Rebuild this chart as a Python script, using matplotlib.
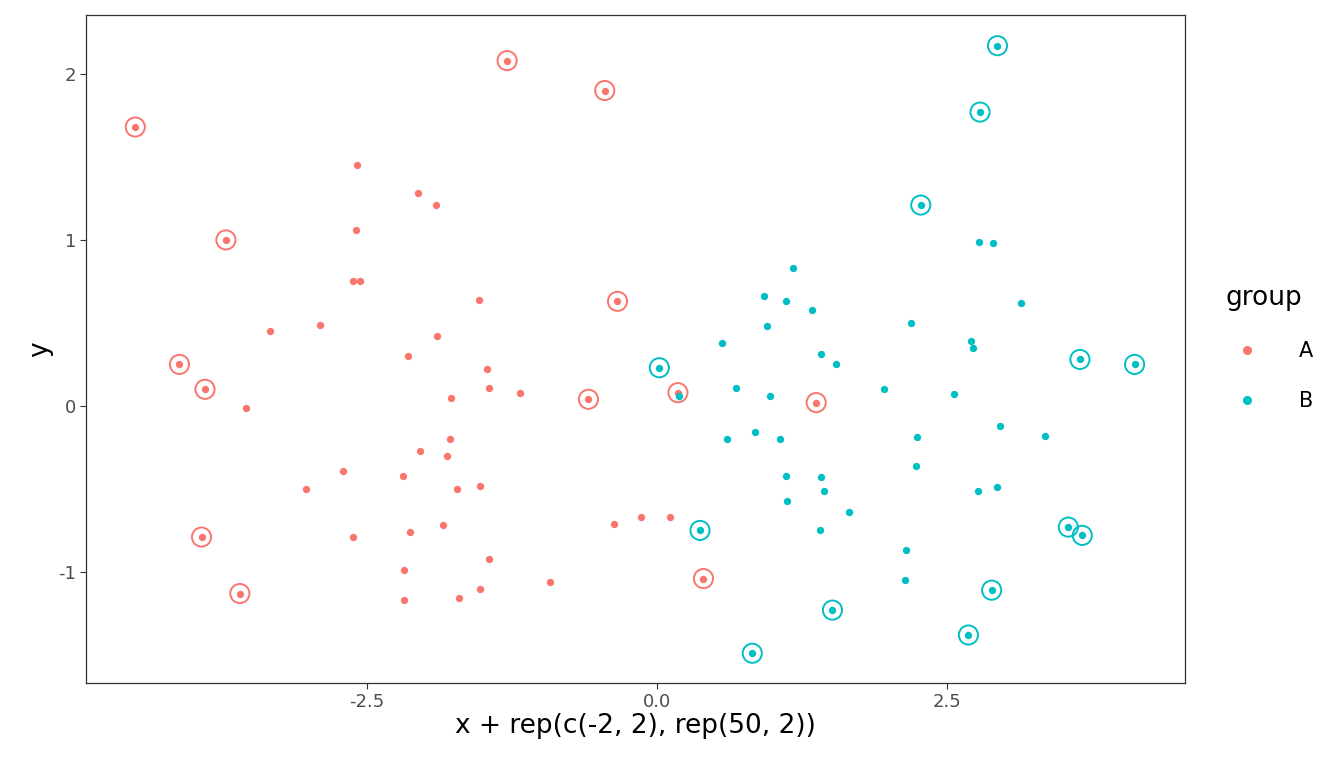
import numpy as np
import matplotlib
matplotlib.use("Agg")
import matplotlib.pyplot as plt
from matplotlib.lines import Line2D

red = "#F8766D"
teal = "#00BFC4"

# group A, marked points
a_mark_x = [-4.49, -3.71, -4.11, -3.89, -3.92, -3.59, -1.29, -0.45, -0.34, -0.59, 0.18, 1.37, 0.40]
a_mark_y = [1.68, 1.00, 0.25, 0.10, -0.79, -1.13, 2.08, 1.90, 0.63, 0.04, 0.08, 0.02, -1.04]
# group A, other points
a_x = [-2.58, -2.06, -1.90, -2.59, -2.62, -2.56, -1.53, -3.33, -2.90, -1.89, -2.14, -1.46,
       -1.45, -1.18, -1.77, -3.54, -1.78, -2.04, -1.81, -2.70, -2.19, -3.02, -1.72, -1.52,
       -1.84, -2.13, -0.37, -0.14, 0.11, -2.62, -1.45, -2.18, -0.92, -1.70, -1.52, -2.18]
a_y = [1.45, 1.28, 1.21, 1.06, 0.75, 0.75, 0.64, 0.45, 0.49, 0.42, 0.30, 0.22,
       0.11, 0.08, 0.05, -0.01, -0.20, -0.27, -0.30, -0.39, -0.42, -0.50, -0.50, -0.48,
       -0.72, -0.76, -0.71, -0.67, -0.67, -0.79, -0.92, -0.99, -1.06, -1.16, -1.10, -1.17]

# group B, marked points
b_mark_x = [2.93, 2.78, 2.27, 0.02, 3.64, 4.11, 0.37, 3.54, 3.66, 2.88, 1.51, 2.68, 0.82]
b_mark_y = [2.17, 1.77, 1.21, 0.23, 0.28, 0.25, -0.75, -0.73, -0.78, -1.11, -1.23, -1.38, -1.49]
# group B, other points
b_x = [1.17, 0.92, 1.11, 1.33, 0.95, 2.19, 2.77, 2.89, 3.13, 0.56, 2.70, 2.72,
       1.41, 1.54, 0.68, 1.95, 0.97, 2.56, 0.19, 2.95, 3.34, 0.84, 0.60, 1.06,
       2.24, 2.23, 1.11, 1.41, 1.44, 2.76, 2.93, 1.12, 1.65, 1.40, 2.14, 2.13]
b_y = [0.83, 0.66, 0.63, 0.58, 0.48, 0.50, 0.99, 0.98, 0.62, 0.38, 0.39, 0.35,
       0.31, 0.25, 0.11, 0.10, 0.06, 0.07, 0.06, -0.12, -0.18, -0.16, -0.20, -0.20,
       -0.19, -0.36, -0.42, -0.43, -0.51, -0.51, -0.49, -0.57, -0.64, -0.75, -0.87, -1.05]

fig = plt.figure(figsize=(13.44, 7.68), dpi=100)
ax = fig.add_axes([0.064, 0.1107, 0.8177, 0.8698])

ax.scatter(a_x + a_mark_x, a_y + a_mark_y, s=28, color=red, linewidths=0, zorder=3)
ax.scatter(b_x + b_mark_x, b_y + b_mark_y, s=28, color=teal, linewidths=0, zorder=3)
ax.scatter(a_mark_x, a_mark_y, s=190, facecolors="none", edgecolors=red, linewidths=1.4, zorder=3)
ax.scatter(b_mark_x, b_mark_y, s=190, facecolors="none", edgecolors=teal, linewidths=1.4, zorder=3)

ax.set_xlim(-4.914, 4.544)
ax.set_ylim(-1.669, 2.355)
ax.set_xticks([-2.5, 0, 2.5])
ax.set_xticklabels(["-2.5", "0.0", "2.5"])
ax.set_yticks([-1, 0, 1, 2])
ax.set_yticklabels(["-1", "0", "1", "2"])
ax.tick_params(colors="#333333", labelcolor="#4D4D4D", labelsize=13, length=4, pad=3)
for sp in ax.spines.values():
    sp.set_color("#333333")
    sp.set_linewidth(0.9)
ax.set_xlabel("x + rep(c(-2, 2), rep(50, 2))", fontsize=19, labelpad=2)
ax.set_ylabel("y", fontsize=19, labelpad=4)

handles = [Line2D([], [], marker="o", linestyle="", color=red, markersize=5.5),
           Line2D([], [], marker="o", linestyle="", color=teal, markersize=5.5)]
leg = fig.legend(handles, ["A", "B"], title="group", loc="upper left",
                 bbox_to_anchor=(0.906, 0.64), frameon=False, fontsize=15,
                 title_fontsize=19, handletextpad=1.5, labelspacing=1.45,
                 borderaxespad=0)
leg._legend_box.align = "left"

fig.savefig("out.png", dpi=100)
